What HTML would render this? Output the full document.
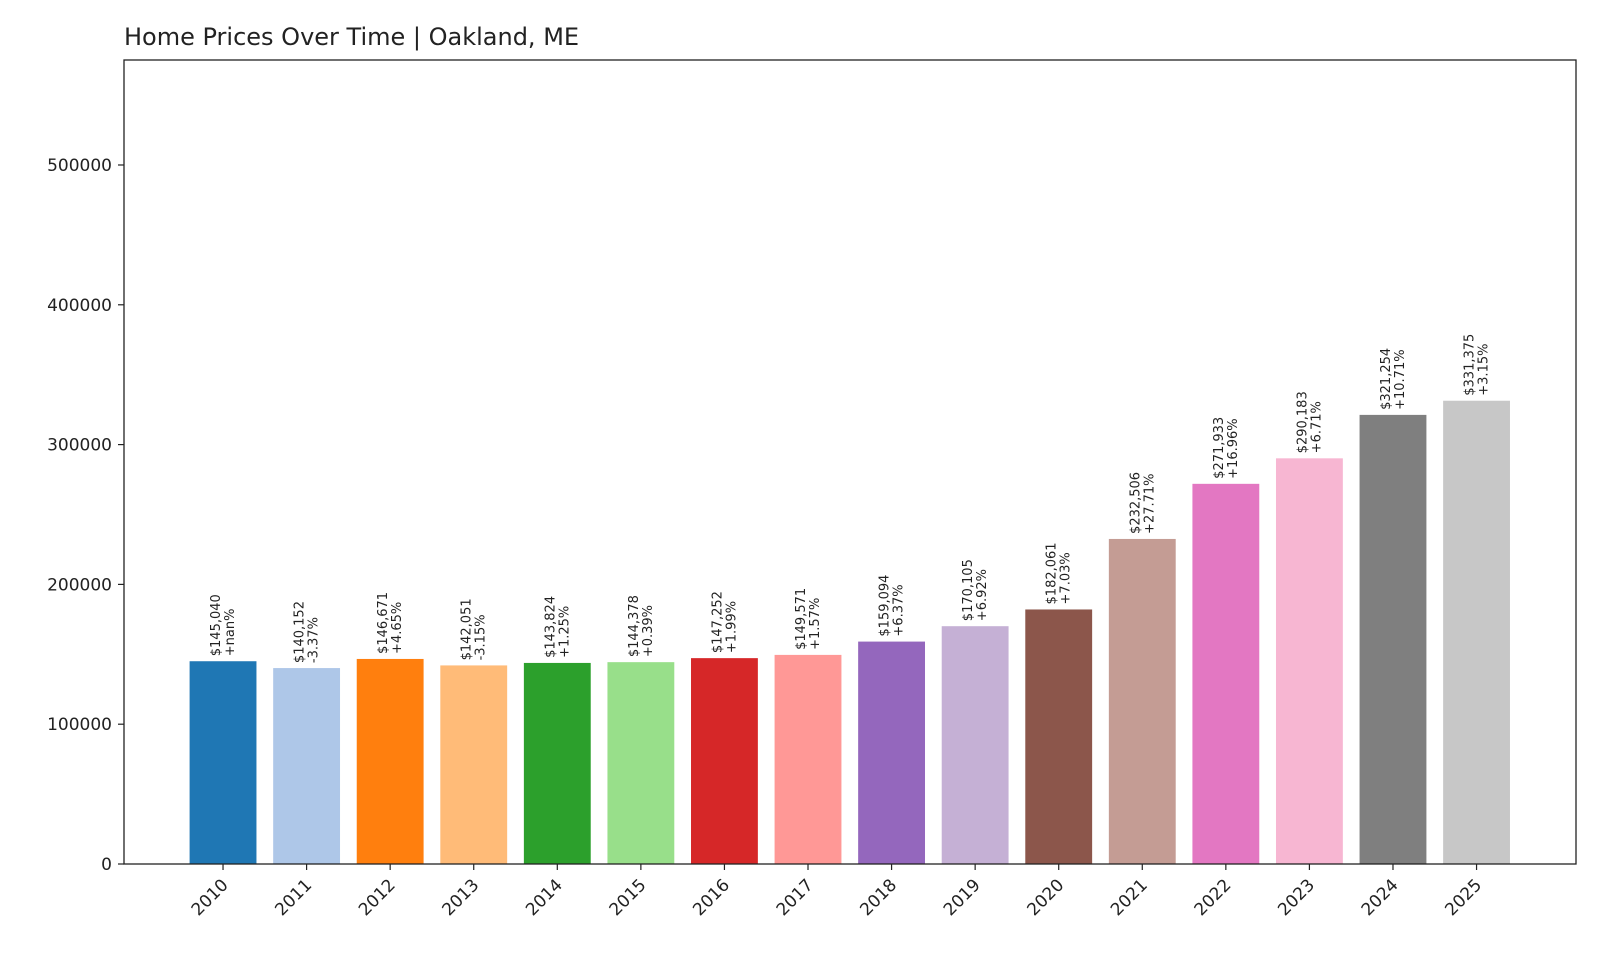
<!DOCTYPE html>
<html><head><meta charset="utf-8"><style>
body{margin:0;background:#fff;}
svg{display:block;font-family:"DejaVu Sans","Liberation Sans",sans-serif;}
</style></head><body>
<svg id="chart" width="1600" height="960">
<text x="124" y="45" font-size="24" fill="#222">Home Prices Over Time | Oakland, ME</text>
<g id="bars"></g>
<g id="labels"></g>
<g id="axes"></g>
</svg>
<script>
const years=["2010","2011","2012","2013","2014","2015","2016","2017","2018","2019","2020","2021","2022","2023","2024","2025"];
const prices=[145040,140152,146671,142051,143824,144378,147252,149571,159094,170105,182061,232506,271933,290183,321254,331375];
const changes=["+nan%","-3.37%","+4.65%","-3.15%","+1.25%","+0.39%","+1.99%","+1.57%","+6.37%","+6.92%","+7.03%","+27.71%","+16.96%","+6.71%","+10.71%","+3.15%"];
const colors=["#1f77b4","#aec7e8","#ff7f0e","#ffbb78","#2ca02c","#98df8a","#d62728","#ff9896","#9467bd","#c5b0d5","#8c564b","#c49c94","#e377c2","#f7b6d2","#7f7f7f","#c7c7c7"];
const yTicks=[0,100000,200000,300000,400000,500000];
const L=124,R=1576,T=60,B=864,XMIN=-1.185,XMAX=16.19,YMAX=575100;
const NS="http://www.w3.org/2000/svg";
const xs=i=>L+(i-XMIN)/(XMAX-XMIN)*(R-L);
const ys=v=>B-v/YMAX*(B-T);
const unit=(R-L)/(XMAX-XMIN);
function mk(tag,attrs,parent){const e=document.createElementNS(NS,tag);for(const k in attrs)e.setAttribute(k,attrs[k]);parent.appendChild(e);return e;}
const gb=document.getElementById('bars'),gl=document.getElementById('labels'),ga=document.getElementById('axes');
prices.forEach((p,i)=>{
  const cx=xs(i),w=0.8*unit;
  const r=mk('rect',{x:cx-w/2,y:ys(p),width:w,height:B-ys(p),fill:colors[i]},gb);
  
  
  const t=mk('text',{transform:`translate(${cx},${ys(p)-5}) rotate(-90)`,'font-size':13,fill:'#222'},gl);
  
  
  const t1=mk('tspan',{x:0,dy:-3},t);t1.textContent='$'+p.toLocaleString('en-US');
  const t2=mk('tspan',{x:0,dy:14},t);t2.textContent=changes[i];
  const tk=mk('line',{x1:cx,x2:cx,y1:B,y2:B+6,stroke:'#222','stroke-width':1.2},ga);
  
  
  const xl=mk('text',{transform:`translate(${cx+6},${B+22}) rotate(-45)`,'text-anchor':'end','font-size':17,fill:'#222'},ga);
  xl.textContent=years[i];
  
  
});
yTicks.forEach(v=>{
  const y=ys(v);
  const tk=mk('line',{x1:L-6,x2:L,y1:y,y2:y,stroke:'#222','stroke-width':1.2},ga);
  
  
  const tl=mk('text',{x:L-12,y:y+6,'text-anchor':'end','font-size':17,fill:'#222'},ga);
  tl.textContent=String(v);
  
  
});
const fr=mk('rect',{x:L,y:T,width:R-L,height:B-T,fill:'none',stroke:'#222','stroke-width':1.3},ga);


</script>
</body></html>
